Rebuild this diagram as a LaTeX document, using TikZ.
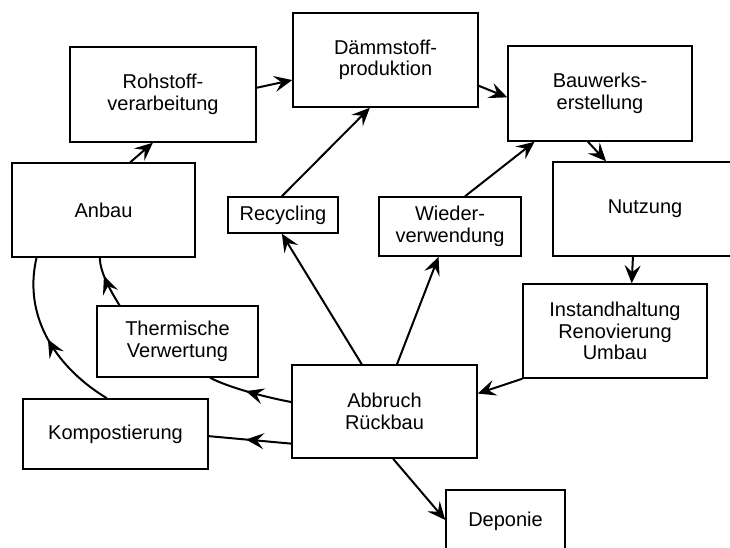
\documentclass[tikz,border=0pt]{standalone}
\usepackage{fontspec}
\setmainfont{Liberation Sans}
\usetikzlibrary{arrows.meta,decorations.markings,calc}

\begin{document}
\begin{tikzpicture}[x=1pt,y=-1pt,
  box/.style={draw, line width=1.5pt, align=center, inner sep=0pt,
    font=\fontsize{20}{21.5}\selectfont},
  arr/.style={line width=2pt, -{Stealth[length=18pt,width=16pt,inset=7pt]}},
  midarr/.style={line width=2pt, postaction={decorate},
    decoration={markings, mark=at position #1 with
      {\arrow{Stealth[length=18pt,width=16pt,inset=7pt]}}}},
  midarr/.default=0.55]

\useasboundingbox (0,0) rectangle (730,548);
\clip (0,0) rectangle (730,548);

% life-cycle stations
\node[box, minimum width=186pt, minimum height=95pt] (roh)   at (163,94.5)   {Rohstoff-\\verarbeitung};
\node[box, minimum width=185pt, minimum height=94pt] (daem)  at (385.5,60)   {Dämmstoff-\\produktion};
\node[box, minimum width=184pt, minimum height=95pt] (bau)   at (600,93.5)   {Bauwerks-\\erstellung};
\node[box, minimum width=184pt, minimum height=94pt] (nutz)  at (645,209)    {Nutzung};
\node[box, minimum width=183pt, minimum height=94pt] (anbau) at (103.5,210)  {Anbau};
\node[box, minimum width=110pt, minimum height=36pt] (rec)   at (283,215)    {Recycling};
\node[box, minimum width=142pt, minimum height=59pt] (wied)  at (450,226.5)  {Wieder-\\verwendung};
\node[box, minimum width=161pt, minimum height=71pt] (therm) at (177.5,341.5) {Thermische\\Verwertung};
\node[box, minimum width=185pt, minimum height=70pt] (komp)  at (115.5,434)  {Kompostierung};
\node[box, minimum width=185pt, minimum height=93pt] (abb)   at (384.5,411.5) {Abbruch\\Rückbau};
\node[box, minimum width=184pt, minimum height=94pt] (inst)  at (615,331)    {Instandhaltung\\Renovierung\\Umbau};
\node[box, minimum width=119pt, minimum height=63pt] (dep)   at (505.5,521.5) {Deponie};

% main cycle
\draw[arr] ($(roh.north east)!0.43!(roh.south east)$) -- ($(daem.north west)!0.71!(daem.south west)$);
\draw[arr] ($(daem.north east)!0.77!(daem.south east)$) -- ($(bau.north west)!0.54!(bau.south west)$);
\draw[arr] ($(bau.south west)!0.435!(bau.south east)$) -- ($(nutz.north west)!0.29!(nutz.north east)$);
\draw[arr] ($(nutz.south west)!0.435!(nutz.south east)$) -- ($(inst.north west)!0.59!(inst.north east)$);
\draw[arr] (inst.south west) -- ($(abb.north east)!0.31!(abb.south east)$);

% recovery paths
\draw[arr] ($(abb.north west)!0.378!(abb.north east)$) -- ($(rec.south west)!0.49!(rec.south east)$);
\draw[arr] ($(rec.north west)!0.49!(rec.north east)$) -- ($(daem.south west)!0.416!(daem.south east)$);
\draw[arr] ($(abb.north west)!0.567!(abb.north east)$) -- ($(wied.south west)!0.42!(wied.south east)$);
\draw[arr] ($(wied.north west)!0.605!(wied.north east)$) -- ($(bau.south west)!0.147!(bau.south east)$);
\draw[midarr=0.55] ($(abb.north west)!0.40!(abb.south west)$)
  .. controls (265,397) and (230,388) .. ($(therm.south west)!0.70!(therm.south east)$);
\draw[midarr=0.55] ($(abb.north west)!0.84!(abb.south west)$) -- ($(komp.north east)!0.53!(komp.south east)$);
\draw[midarr=0.5] ($(komp.north west)!0.454!(komp.north east)$)
  .. controls (60,370) and (22,320) .. ($(anbau.south west)!0.137!(anbau.south east)$);
\draw[midarr=0.64] ($(therm.north west)!0.143!(therm.north east)$)
  .. controls (110,290) and (100,272) .. ($(anbau.south west)!0.48!(anbau.south east)$);
\draw[arr] ($(anbau.north west)!0.645!(anbau.north east)$) -- ($(roh.south west)!0.446!(roh.south east)$);
\draw[arr] ($(abb.south west)!0.546!(abb.south east)$) -- ($(dep.north west)!0.476!(dep.south west)$);

\end{tikzpicture}
\end{document}
